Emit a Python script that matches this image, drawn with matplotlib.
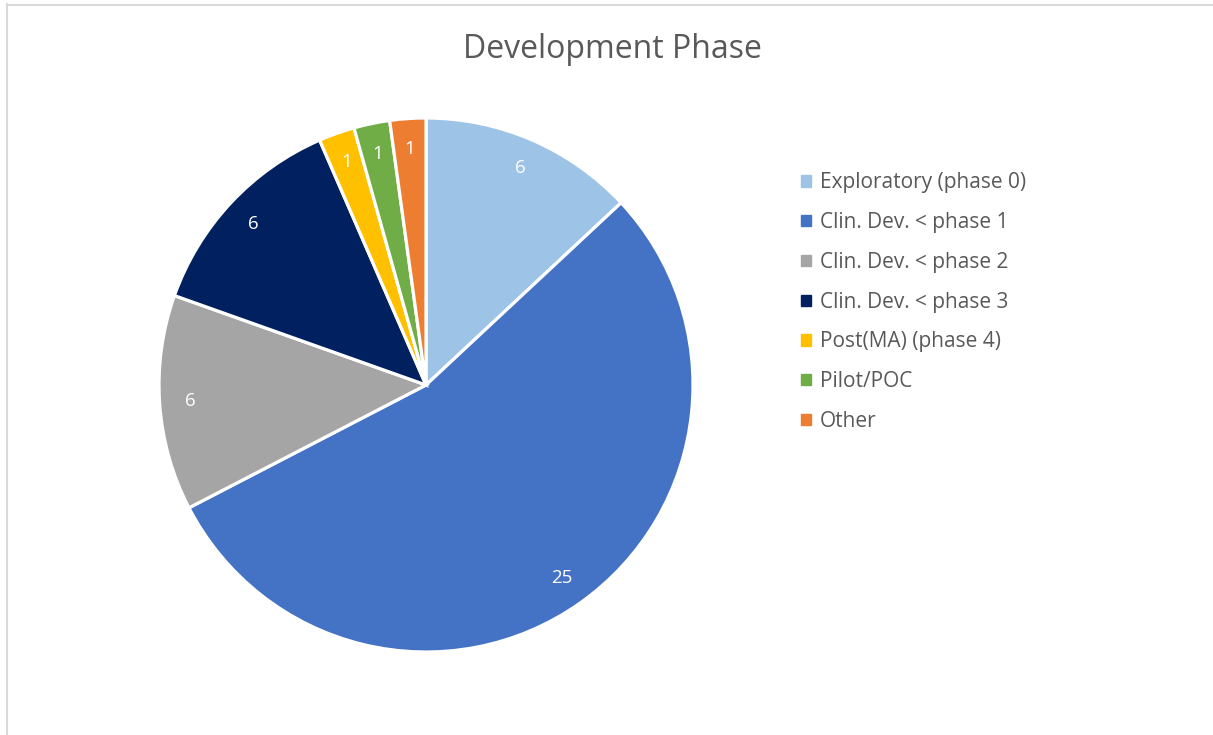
import matplotlib.pyplot as plt
from matplotlib.patches import Rectangle
from matplotlib.lines import Line2D

plt.rcParams['font.family'] = ['Open Sans', 'DejaVu Sans']

phases = ['Exploratory (phase 0)', 'Clin. Dev. < phase 1', 'Clin. Dev. < phase 2',
          'Clin. Dev. < phase 3', 'Post(MA) (phase 4)', 'Pilot/POC', 'Other']
counts = [6, 25, 6, 6, 1, 1, 1]
colors = ['#9DC3E6', '#4472C4', '#A5A5A5', '#002060', '#FFC000', '#70AD47', '#ED7D31']

W, H = 1213, 735
fig = plt.figure(figsize=(W / 100, H / 100), dpi=100)

# light frame of the chart area
fig.add_artist(Line2D([7 / W, 7 / W], [0, 1 - 4 / H], color='#d9d9d9', lw=1.5))
fig.add_artist(Line2D([7 / W, 1], [1 - 4.5 / H, 1 - 4.5 / H], color='#d9d9d9', lw=1.5))

cx, cy, r = 426, 385, 267
ax = fig.add_axes([(cx - r) / W, (H - cy - r) / H, 2 * r / W, 2 * r / H])
wedges, texts = ax.pie(counts, colors=colors, startangle=90, counterclock=False,
                       labels=[str(c) for c in counts], labeldistance=0.885,
                       wedgeprops=dict(edgecolor='white', linewidth=2.3),
                       textprops=dict(color='white', fontsize=13.5))
for t in texts:
    t.set_ha('center')
    t.set_va('center')
ax.set_xlim(-1, 1)
ax.set_ylim(-1, 1)
ax.set_aspect('equal')

fig.text(612 / W, 1 - 49 / H, 'Development Phase', ha='center', va='center',
         fontsize=23, color='#595959')

handles = [Rectangle((0, 0), 1, 1, color=c) for c in colors]
leg = fig.legend(handles, phases, loc='upper left', bbox_to_anchor=(793 / W, 1 - 164 / H),
                 frameon=False, fontsize=15, labelspacing=0.9, handlelength=0.45,
                 handleheight=0.45, handletextpad=0.45, borderaxespad=0)
for t in leg.get_texts():
    t.set_color('#595959')

fig.savefig('out.png', dpi=100)
